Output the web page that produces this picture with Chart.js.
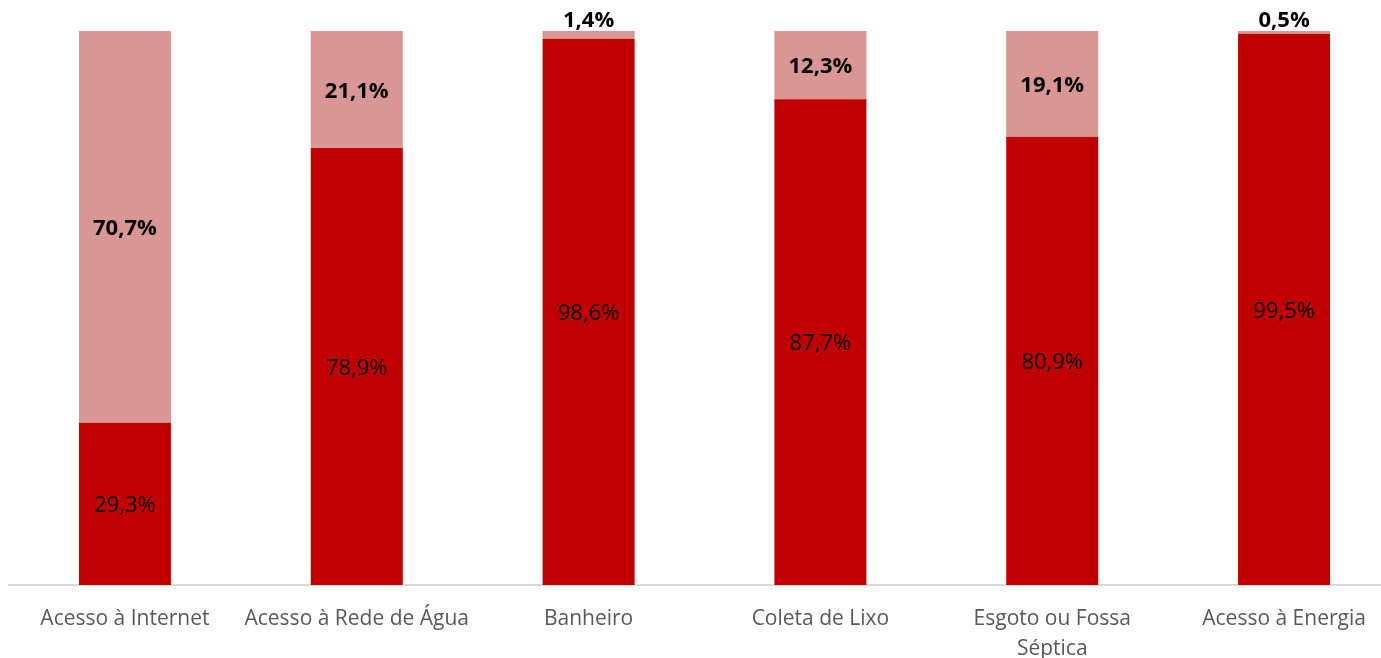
<!DOCTYPE html>
<html>
<head>
<meta charset="utf-8">
<script src="https://cdn.jsdelivr.net/npm/chart.js@4/dist/chart.umd.min.js"></script>
<style>
    html, body { margin: 0; padding: 0; background: #fff; overflow: hidden; }
    #wrap { width: 1400px; height: 658px; }
</style>
</head>
<body>
<div id="wrap"><canvas id="chart" width="1400" height="658"></canvas></div>
<script>
var categories = [
    "Acesso à Internet",
    "Acesso à Rede de Água",
    "Banheiro",
    "Coleta de Lixo",
    ["Esgoto ou Fossa", "Séptica"],
    "Acesso à Energia"
];
var comAcesso = [29.3, 78.9, 98.6, 87.7, 80.9, 99.5];
var semAcesso = [70.7, 21.1, 1.4, 12.3, 19.1, 0.5];

function fmt(v){
    return v.toFixed(1).replace(".", ",") + "%";
}

// rótulos de valor dentro das barras (ou acima, quando a fatia é pequena)
var valueLabels = {
    id: "valueLabels",
    afterDatasetsDraw: function(chart){
        var ctx = chart.ctx;
        ctx.save();
        ctx.fillStyle = "#000";
        ctx.textAlign = "center";
        chart.data.datasets.forEach(function(ds, i){
            var meta = chart.getDatasetMeta(i);
            ctx.font = (i === 1 ? "bold " : "") + "22px 'Open Sans'";
            meta.data.forEach(function(bar, j){
                var v = ds.data[j];
                var top = Math.min(bar.y, bar.base);
                var h = Math.abs(bar.base - bar.y);
                if (h < 30){
                    ctx.textBaseline = "bottom";
                    ctx.fillText(fmt(v), bar.x, top + 1);
                } else {
                    ctx.textBaseline = "middle";
                    ctx.fillText(fmt(v), bar.x, top + h / 2 + 2);
                }
            });
        });
        ctx.restore();
    }
};

new Chart(document.getElementById("chart"), {
    type: "bar",
    data: {
        labels: categories,
        datasets: [{
            data: comAcesso,
            backgroundColor: "#C00000",
            barPercentage: 0.397,
            categoryPercentage: 1
        }, {
            data: semAcesso,
            backgroundColor: "#D99694",
            barPercentage: 0.397,
            categoryPercentage: 1
        }]
    },
    options: {
        responsive: false,
        animation: false,
        layout: { padding: { top: 31, left: 9, right: 0, bottom: 0 } },
        plugins: {
            legend: { display: false },
            tooltip: { enabled: false }
        },
        scales: {
            x: {
                stacked: true,
                grid: { display: false },
                border: { display: true, color: "#d9d9d9", width: 2 },
                ticks: {
                    color: "#595959",
                    font: { family: "'Open Sans'", size: 21, lineHeight: 1.43 },
                    padding: 11,
                    autoSkip: false,
                    maxRotation: 0
                },
                afterFit: function(scale){ scale.height = 73; }
            },
            y: {
                stacked: true,
                display: false,
                min: 0,
                max: 100
            }
        }
    },
    plugins: [valueLabels]
});
</script>
</body>
</html>
